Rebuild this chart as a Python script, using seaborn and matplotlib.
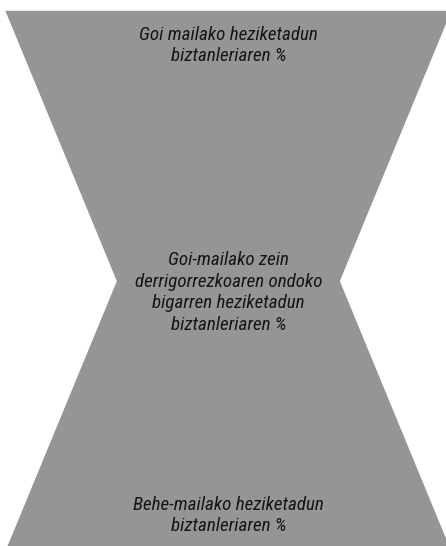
import matplotlib
matplotlib.use("Agg")
import matplotlib.pyplot as plt
import seaborn as sns
import numpy as np

# ---- data ----
categories = [
    "Goi mailako heziketadun\nbiztanleriaren %",
    "Goi-mailako zein\nderrigorrezkoaren ondoko\nbigarren heziketadun\nbiztanleriaren %",
    "Behe-mailako heziketadun\nbiztanleriaren %",
]
widths = [100, 50, 100]
levels = [0, 1, 2]

# ---- style ----
sns.set_theme(style="white")
plt.rcParams["font.family"] = ["Roboto Condensed", "DejaVu Sans"]

fig = plt.figure(figsize=(4.46, 5.46), dpi=100)
ax = fig.add_axes([0, 0, 1, 1])

w = np.array(widths, dtype=float)
y = np.array(levels, dtype=float)
ax.fill_betweenx(y, -w / 2, w / 2, color="#959595", linewidth=0)

ax.set_xlim(-51.2, 48.8)
ax.set_ylim(1.98, -0.04)
ax.axis("off")

label_y = [0.128, 1.042, 1.868]
for txt, ly in zip(categories, label_y):
    ax.text(0, ly, txt, ha="center", va="center", fontsize=13.7,
            style="italic", color="#151515", linespacing=1.24)

fig.savefig("out.png", dpi=100)
